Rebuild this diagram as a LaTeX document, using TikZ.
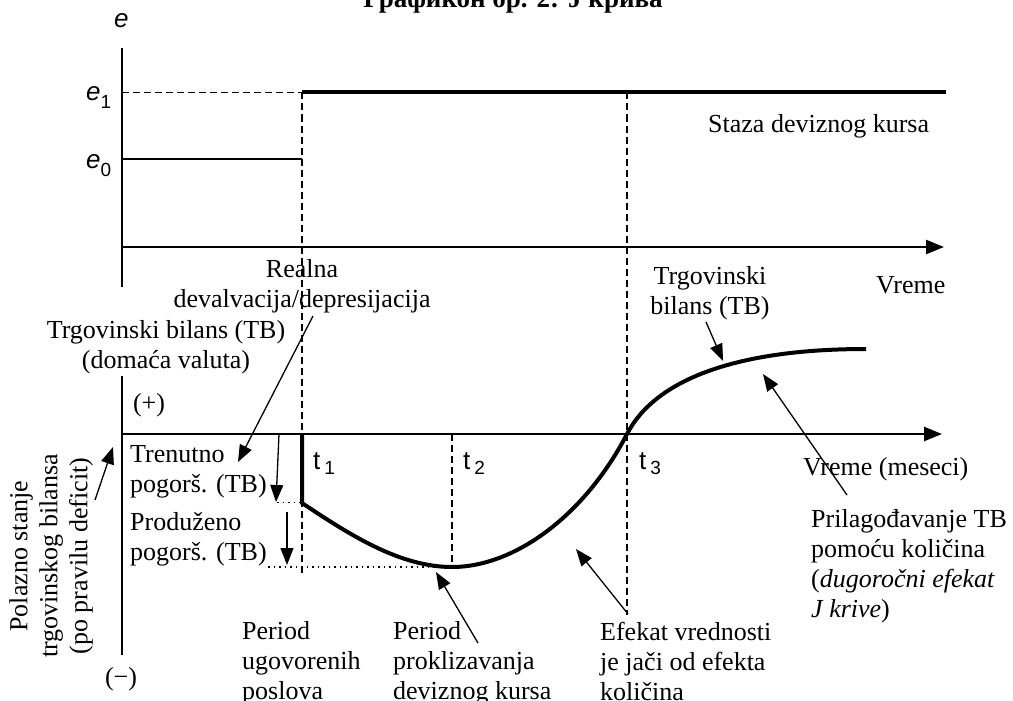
\documentclass[tikz,border=0pt]{standalone}
\usepackage{fontspec}
\setmainfont{Liberation Serif}
\newfontfamily\lsans{Liberation Sans}
\usetikzlibrary{arrows.meta}
\begin{document}
\begin{tikzpicture}[x=1pt,y=-1pt,
  lbl/.style={inner sep=0pt, font=\fontsize{26}{30}\selectfont},
  sym/.style={inner sep=0pt, font=\lsans\fontsize{26}{26}\selectfont},
  axisline/.style={line width=2.5pt},
  axisarrow/.style={line width=2.5pt, -{Triangle[length=18pt,width=14pt]}},
  jline/.style={line width=4pt},
  dashline/.style={line width=1.4pt, dash pattern=on 7pt off 4pt},
  dotline/.style={line width=1.5pt, dash pattern=on 1.5pt off 4pt},
  pointer/.style={line width=1.3pt, -{Triangle[length=17pt,width=13pt]}}]
\useasboundingbox (0,0) rectangle (1013,701);
\fill[white] (0,0) rectangle (1013,701);

% title (cut by the top edge)
\node[inner sep=0pt, font=\fontsize{27}{30}\selectfont\bfseries, anchor=base] (title) at (513,8) {Графикон бр. 2: J крива};

% ---- upper panel ----
\coordinate (topY) at (122,48);
\coordinate (topO) at (122,287);
\coordinate (topX0) at (122,247);
\coordinate (topX1) at (944,247);
\draw[axisline] (topY) -- (topO);
\draw[axisarrow] (topX0) -- (topX1);

\node[sym, anchor=base west] (e) at (114,28) {\itshape e};
\node[sym, anchor=base west] (e1) at (86,101) {\itshape e\raisebox{-8pt}{\fontsize{19}{19}\selectfont\upshape 1}};
\node[sym, anchor=base west] (e0) at (86,168) {\itshape e\raisebox{-8pt}{\fontsize{19}{19}\selectfont\upshape 0}};

\coordinate (e1L) at (122,92.5);
\coordinate (e1M) at (302,92.5);
\coordinate (e1R) at (946,92.5);
\coordinate (e0L) at (122,159);
\coordinate (e0R) at (302,159);
\draw[dashline] (e1L) -- (e1M);
\draw[jline] (e1M) -- (e1R);
\draw[axisline] (e0L) -- (e0R);

\node[lbl, anchor=base west] (staza) at (708,132) {Staza deviznog kursa};
\node[lbl, anchor=base west] (vreme1) at (876,293) {Vreme};

% vertical dashed time markers
\coordinate (t1top) at (302,92.5);
\coordinate (t1bot) at (302,573);
\coordinate (t3top) at (627,92.5);
\coordinate (t3bot) at (627,615);
\coordinate (t2top) at (452,434);
\coordinate (t2bot) at (452,567);
\draw[dashline] (t1top) -- (t1bot);
\draw[dashline] (t3top) -- (t3bot);
\draw[dashline] (t2top) -- (t2bot);

% ---- lower panel ----
\coordinate (lowY) at (122,376);
\coordinate (lowO) at (122,655);
\coordinate (lowX0) at (122,434);
\coordinate (lowX1) at (942,434);
\draw[axisline] (lowY) -- (lowO);
\draw[axisarrow] (lowX0) -- (lowX1);

\node[lbl, align=center, anchor=north] (realna) at (302,259) {Realna\\devalvacija/depresijacija};
\node[lbl, align=center, anchor=north] (tbl) at (166,320) {Trgovinski bilans (TB)\\(domaća valuta)};
\node[lbl, anchor=base] (plus) at (149,411) {(+)};
\node[lbl, anchor=base] (minus) at (121,685) {(−)};
\node[lbl, align=left, anchor=north west] (tren) at (130,445) {Trenutno\\pogorš. (TB)};
\node[lbl, align=left, anchor=north west] (prod) at (130,512) {Produženo\\pogorš. (TB)};
\node[lbl, align=center, rotate=90] (pol) at (51,556) {Polazno stanje\\trgovinskog bilansa\\(po pravilu deficit)};

\node[sym, anchor=base west] (t1) at (313,469) {t\hspace{4pt}\raisebox{-5pt}{\fontsize{19}{19}\selectfont 1}};
\node[sym, anchor=base west] (t2) at (463,469) {t\hspace{4pt}\raisebox{-5pt}{\fontsize{19}{19}\selectfont 2}};
\node[sym, anchor=base west] (t3) at (639,469) {t\hspace{4pt}\raisebox{-5pt}{\fontsize{19}{19}\selectfont 3}};

\node[lbl, anchor=base west] (vreme2) at (803,475) {Vreme (meseci)};
\node[lbl, align=center, anchor=north] (tb2) at (710,266) {Trgovinski\\bilans (TB)};
\node[lbl, align=left, anchor=north west] (pril) at (811,509) {Prilagođavanje TB\\pomoću količina\\(\textit{dugoročni efekat}\\\textit{J krive})};
\node[lbl, align=left, anchor=north west] (efekat) at (600,622) {Efekat vrednosti\\je jači od efekta\\količina};
\node[lbl, align=left, anchor=north west] (per1) at (242,621) {Period\\ugovorenih\\poslova};
\node[lbl, align=left, anchor=north west] (per2) at (393,621) {Period\\proklizavanja\\deviznog kursa};

% dotted guide lines
\coordinate (d1a) at (277,502.5);
\coordinate (d1b) at (302,502.5);
\coordinate (d2a) at (268,567);
\coordinate (d2b) at (452,567);
\draw[dotline] (d1a) -- (d1b);
\draw[dotline] (d2a) -- (d2b);

% J curve
\coordinate (jA) at (302,434);
\coordinate (jB) at (302,503);
\coordinate (jMin) at (452,567);
\coordinate (jCross) at (627,434);
\coordinate (jEnd) at (866,349);
\draw[jline] (jA) -- (jB) .. controls (350,535) and (400,567) .. (jMin)
  .. controls (515,567) and (585,515) .. (jCross)
  .. controls (655,380) and (735,349) .. (jEnd);

% pointers
\coordinate (rTail) at (313,316);
\coordinate (rTip) at (238,462);
\coordinate (a1Tail) at (279,434);
\coordinate (a1Tip) at (276,502);
\coordinate (a2Tail) at (287,512);
\coordinate (a2Tip) at (287,565);
\coordinate (pTail) at (95,500);
\coordinate (pTip) at (113,447);
\coordinate (tbTail) at (706,322);
\coordinate (tbTip) at (723,361);
\coordinate (prTail) at (847,495);
\coordinate (prTip) at (763,374);
\coordinate (p2Tail) at (478,643);
\coordinate (p2Tip) at (436,572);
\coordinate (efTail) at (628,614);
\coordinate (efTip) at (576,549);
\draw[pointer] (rTail) -- (rTip);
\draw[pointer] (a1Tail) -- (a1Tip);
\draw[pointer] (a2Tail) -- (a2Tip);
\draw[pointer] (pTail) -- (pTip);
\draw[pointer] (tbTail) -- (tbTip);
\draw[pointer] (prTail) -- (prTip);
\draw[pointer] (p2Tail) -- (p2Tip);
\draw[pointer] (efTail) -- (efTip);
\end{tikzpicture}
\end{document}
